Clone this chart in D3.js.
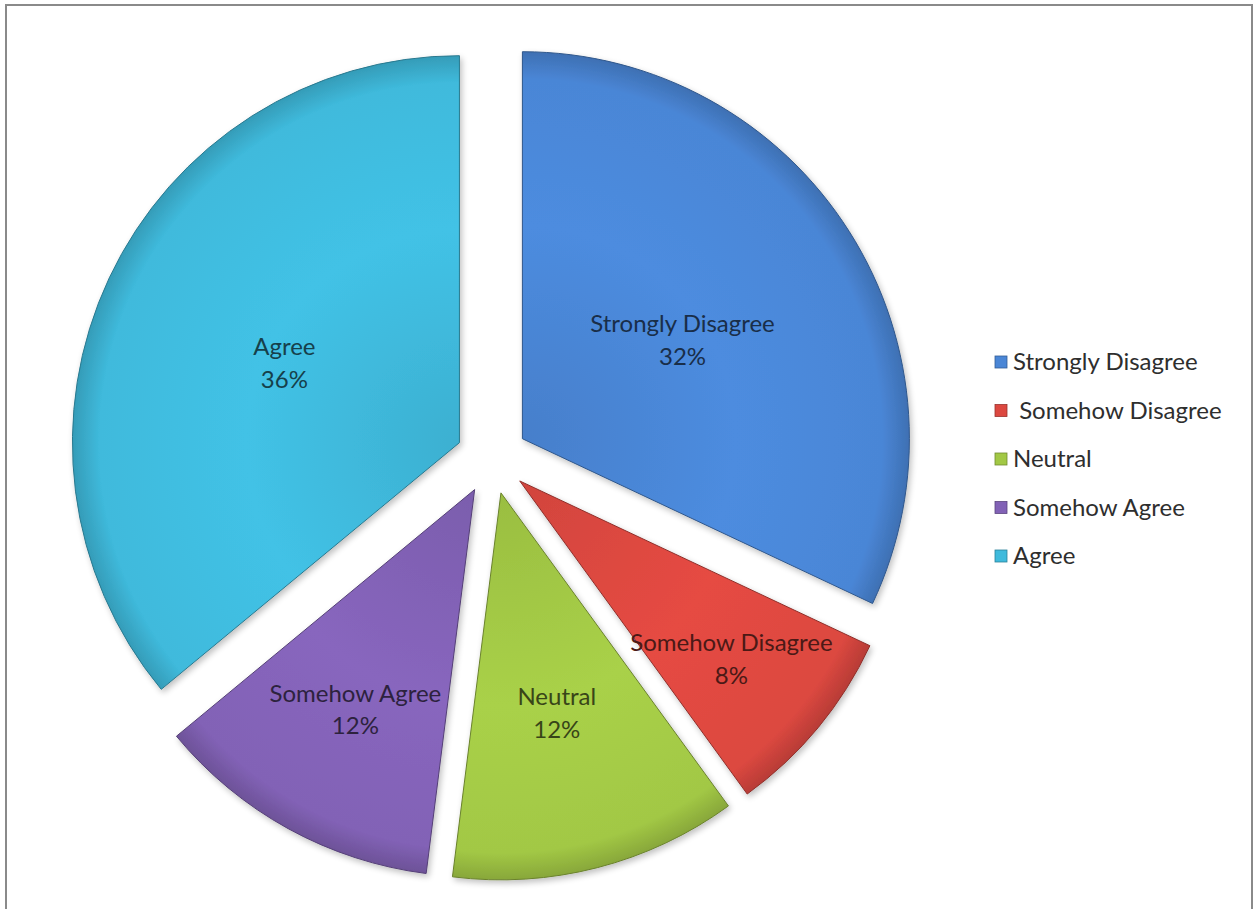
<!DOCTYPE html>
<html>
<head>
<meta charset="utf-8">
<script src="https://cdn.jsdelivr.net/npm/d3@7"></script>
<style>
  body { margin: 0; background: #fff; }
  svg { display: block; }
  text { font-family: Lato, "Open Sans", sans-serif; }
</style>
</head>
<body>
<script>
// survey answers, clockwise from 12 o'clock
const categories = ["Strongly Disagree", " Somehow Disagree", "Neutral", "Somehow Agree", "Agree"]
const values = [32, 8, 12, 12, 36]
const colors = ["#4a86d6", "#dc4840", "#a2c845", "#8262b6", "#3fbadc"]

const width = 1254
const height = 909
const cx = 492, cy = 458
const radius = 387
const explode = 36
// how far out each label sits (fraction of radius)
const labelPos = [0.49, 0.71, 0.58, 0.64, 0.5]

const svg = d3.select("body").append("svg")
  .attr("width", width)
  .attr("height", height)

// chart frame
svg.append("rect")
  .attr("x", 6).attr("y", 5)
  .attr("width", 1246).attr("height", 920)
  .attr("fill", "#fff")
  .attr("stroke", "#8a8a8a")
  .attr("stroke-width", 2)

const defs = svg.append("defs")

const pie = d3.pie().sort(null).value(d => d)
const arcs = pie(values)

const arc = d3.arc().innerRadius(0).outerRadius(radius)

const shadow = defs.append("filter").attr("id", "shadow")
  .attr("x", "-10%").attr("y", "-10%").attr("width", "120%").attr("height", "120%")
shadow.append("feGaussianBlur").attr("in", "SourceAlpha").attr("stdDeviation", 3)
shadow.append("feOffset").attr("dx", 2).attr("dy", 3).attr("result", "b")
shadow.append("feComponentTransfer").append("feFuncA").attr("type", "linear").attr("slope", 0.25)
const merge = shadow.append("feMerge")
merge.append("feMergeNode")
merge.append("feMergeNode").attr("in", "SourceGraphic")

arcs.forEach((a, i) => {
  const g = defs.append("radialGradient")
    .attr("id", "grad" + i)
    .attr("gradientUnits", "userSpaceOnUse")
    .attr("cx", 0).attr("cy", 0).attr("r", radius)
  const c = d3.color(colors[i])
  g.append("stop").attr("offset", "0%").attr("stop-color", c.darker(0.15))
  g.append("stop").attr("offset", "55%").attr("stop-color", c.brighter(0.12))
  g.append("stop").attr("offset", "93%").attr("stop-color", c)
  g.append("stop").attr("offset", "100%").attr("stop-color", c.darker(0.5))
})

const offset = a => {
  const mid = (a.startAngle + a.endAngle) / 2
  return [Math.sin(mid) * explode, -Math.cos(mid) * explode]
}

const slices = svg.selectAll(".slice")
  .data(arcs)
  .enter()
  .append("g")
  .attr("class", "slice")
  .attr("transform", d => {
    const o = offset(d)
    return "translate(" + (cx + o[0]) + "," + (cy + o[1]) + ")"
  })

slices.append("path")
  .attr("d", arc)
  .attr("fill", (d, i) => "url(#grad" + i + ")")
  .attr("stroke", (d, i) => d3.color(colors[i]).darker(1.2))
  .attr("stroke-width", 1)
  .attr("stroke-linejoin", "round")
  .attr("filter", "url(#shadow)")

const label = slices.append("text")
  .attr("text-anchor", "middle")
  .attr("font-size", 24)
  .attr("fill", (d, i) => d3.color(colors[i]).darker(3))
  .attr("transform", (d, i) => {
    const mid = (d.startAngle + d.endAngle) / 2
    const r = radius * labelPos[i]
    return "translate(" + (Math.sin(mid) * r) + "," + (-Math.cos(mid) * r) + ")"
  })

label.append("tspan")
  .attr("x", 0).attr("dy", "-0.2em")
  .text((d, i) => categories[i].trim())
label.append("tspan")
  .attr("x", 0).attr("dy", "1.35em")
  .text((d, i) => values[i] + "%")

// legend
const legend = svg.append("g")
  .attr("id", "legend")
  .attr("transform", "translate(995,362)")

const rows = legend.selectAll("g")
  .data(categories)
  .enter()
  .append("g")
  .attr("transform", (d, i) => "translate(0," + (i * 48.5) + ")")

rows.append("rect")
  .attr("x", 0).attr("y", -6)
  .attr("width", 12).attr("height", 12)
  .attr("fill", (d, i) => colors[i])
  .attr("stroke", (d, i) => d3.color(colors[i]).darker(1))
  .attr("stroke-width", 0.8)

rows.append("text")
  .attr("x", 18)
  .attr("y", 8)
  .attr("font-size", 24)
  .attr("fill", "#2e2e2e")
  .style("white-space", "pre")
  .text(d => d)
</script>
</body>
</html>
